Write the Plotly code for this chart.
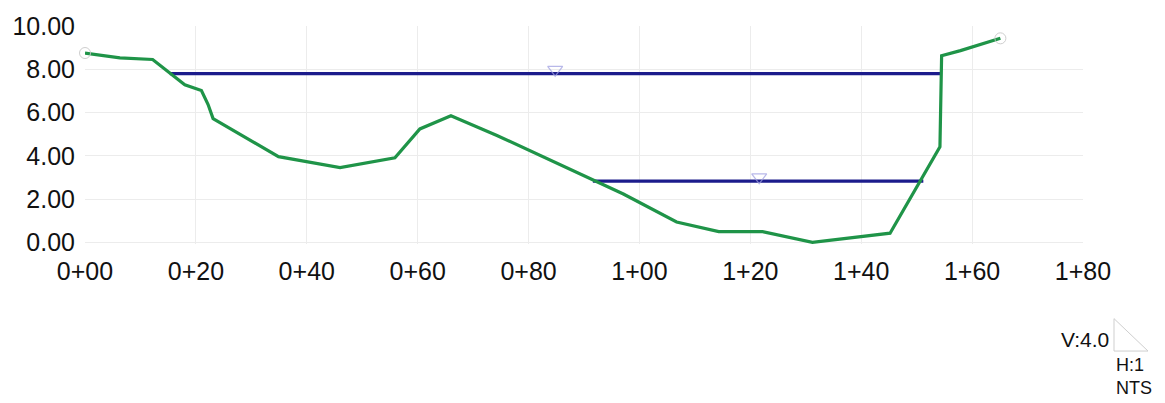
import plotly.graph_objects as go

# Cross-section ground profile (station in ft, elevation in ft)
station = [0, 6.3, 12.2, 18.0, 21.0, 22.2, 23.1, 34.9, 46.0, 55.9, 60.4, 66.0,
           74.3, 97.1, 106.7, 114.3, 122.2, 131.2, 145.2, 154.2, 154.5, 157.9, 165.1]
elevation = [8.75, 8.53, 8.45, 7.28, 7.02, 6.37, 5.72, 3.96, 3.45, 3.91, 5.24, 5.85,
             4.94, 2.23, 0.94, 0.49, 0.49, 0.0, 0.42, 4.41, 8.63, 8.86, 9.43]

# Water surfaces: elevation, start station, end station, marker station
ws_elev = [7.8, 2.83]
ws_start = [15.3, 91.6]
ws_end = [154.5, 151.2]
ws_marker = [84.8, 121.6]

# Axis ticks
x_tickvals = [0, 20, 40, 60, 80, 100, 120, 140, 160, 180]
x_ticktext = ["0+00", "0+20", "0+40", "0+60", "0+80", "1+00", "1+20", "1+40", "1+60", "1+80"]
y_tickvals = [0, 2, 4, 6, 8, 10]

GREEN = "#1f9448"
NAVY = "#1c1c8c"
FONT = "Liberation Sans, Arial, sans-serif"

W, H = 1165, 403
ML, MR, MT, MB = 85, 82, 22, 159

fig = go.Figure()

# Water surface lines
for e, s0, s1 in zip(ws_elev, ws_start, ws_end):
    fig.add_trace(go.Scatter(x=[s0, s1], y=[e, e], mode="lines",
                             line=dict(color=NAVY, width=3.2),
                             hoverinfo="skip", showlegend=False))

# Water surface symbols
fig.add_trace(go.Scatter(
    x=ws_marker, y=[e + 0.18 for e in ws_elev], mode="markers",
    marker=dict(symbol="triangle-down-open", size=13,
                color="rgba(160,160,225,0.75)", line=dict(width=1.2)),
    cliponaxis=False, hoverinfo="skip", showlegend=False))

# Ground profile
fig.add_trace(go.Scatter(x=station, y=elevation, mode="lines",
                         line=dict(color=GREEN, width=3.2),
                         hoverinfo="skip", showlegend=False))

# Open circles at profile ends
fig.add_trace(go.Scatter(
    x=[station[0], station[-1]], y=[elevation[0], elevation[-1]], mode="markers",
    marker=dict(symbol="circle-open", size=11, color="rgba(200,200,200,0.9)",
                line=dict(width=1)),
    cliponaxis=False, hoverinfo="skip", showlegend=False))

# Helpers to place the scale key in pixel terms
PW = W - ML - MR
PH = H - MT - MB


def px(x):
    return (x - ML) / PW


def py(y):
    return (H - MB - y) / PH


# Scale key triangle
fig.add_shape(type="path",
              path=f"M {px(1114)} {py(320)} L {px(1114)} {py(353)} L {px(1148)} {py(353)} Z",
              xref="paper", yref="paper",
              line=dict(color="#cfcfcf", width=1))

fig.add_annotation(x=px(1111), y=py(341), xref="paper", yref="paper",
                   text="V:4.0", showarrow=False, xanchor="right", yanchor="middle",
                   font=dict(family=FONT, size=21, color="#111111"))
fig.add_annotation(x=px(1115), y=py(379), xref="paper", yref="paper",
                   text="H:1<br>NTS", showarrow=False, xanchor="left", yanchor="middle",
                   align="left", borderpad=0,
                   font=dict(family=FONT, size=18, color="#111111"))

fig.update_layout(
    width=W, height=H,
    margin=dict(l=ML, r=MR, t=MT, b=MB),
    paper_bgcolor="white", plot_bgcolor="white",
    font=dict(family=FONT, size=25, color="#111111"),
    xaxis=dict(range=[0, 180], tickvals=x_tickvals, ticktext=x_ticktext,
               showgrid=True, gridcolor="#ececec", gridwidth=1,
               zeroline=False, showline=False,
               ticks="outside", ticklen=5, tickcolor="rgba(0,0,0,0)",
               tickfont=dict(size=25)),
    yaxis=dict(range=[-0.08, 10], tickvals=y_tickvals, tickformat=".2f",
               showgrid=True, gridcolor="#ececec", gridwidth=1,
               zeroline=False, showline=False,
               ticks="outside", ticklen=4, tickcolor="rgba(0,0,0,0)",
               tickfont=dict(size=25)),
)

fig.write_html("out.html")
